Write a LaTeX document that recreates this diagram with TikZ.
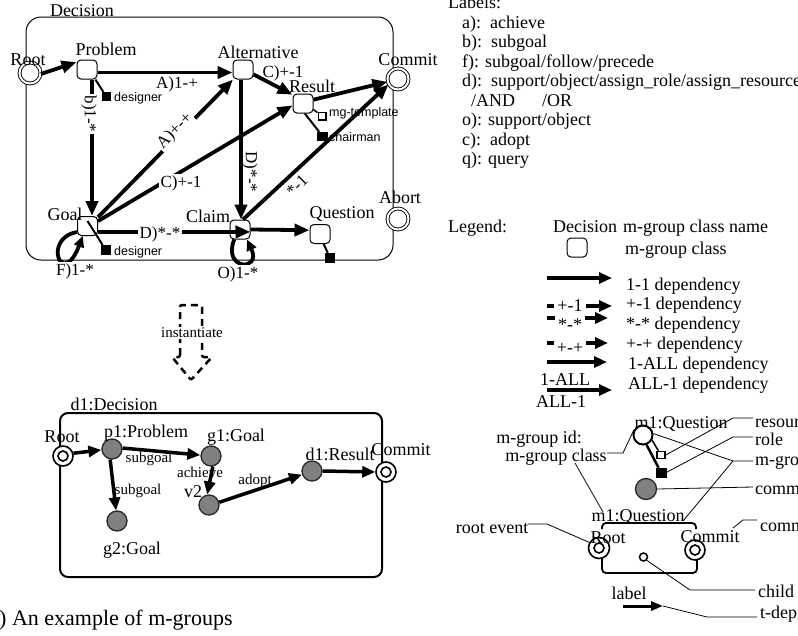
\documentclass[tikz,border=0pt]{standalone}
\usepackage{fontspec}
\setmainfont{Liberation Serif}
\newfontfamily\sansf{Liberation Sans}
\usetikzlibrary{arrows.meta}
\newcommand\fA{\fontsize{18}{20}\selectfont}
\newcommand\fB{\fontsize{17}{19}\selectfont}
\newcommand\fS{\sansf\fontsize{12.5}{14}\selectfont}
\newcommand\fM{\fontsize{15}{17}\selectfont}
\newcommand\fC{\fontsize{22}{24}\selectfont}
\begin{document}
\begin{tikzpicture}[x=1pt,y=-1pt,
  txt/.style={font=\fA, inner sep=0pt, anchor=base},
  txtw/.style={font=\fA, inner sep=0pt, anchor=base west},
  elab/.style={font=\fB, inner sep=1.5pt, fill=white, anchor=base},
  elabn/.style={font=\fB, inner sep=0pt, anchor=base},
  rlab/.style={font=\fB, inner sep=1.5pt, fill=white},
  sml/.style={font=\fS, inner sep=0pt, anchor=west},
  mlab/.style={font=\fM, inner sep=0pt, anchor=base},
  mbox/.style={draw, rounded corners=4pt, minimum width=20pt, minimum height=19pt, inner sep=0pt, fill=white, line width=1pt},
  evt/.style={draw, circle, double, double distance=2pt, line width=0.9pt, minimum size=21pt, inner sep=0pt, fill=white},
  tgt/.style={draw, circle, line width=1.6pt, minimum size=20pt, inner sep=0pt, fill=white},
  inst/.style={draw=black!85, circle, line width=1.3pt, minimum size=20pt, inner sep=0pt, fill=black!50},
  fsq/.style={draw, fill=black, inner sep=0pt, rectangle},
  osq/.style={draw, fill=white, line width=1.5pt, inner sep=0pt, rectangle},
  mk/.style={line width=2pt},
  mkt/.style={line width=1.5pt},
  dep/.style={line width=3.8pt, -{Triangle[length=15pt,width=12pt]}},
  loopa/.style={line width=3.8pt, -{Triangle[length=11pt,width=10pt]}},
  bdep/.style={line width=3.5pt, -{Triangle[length=13pt,width=11pt]}},
  ldep/.style={line width=3.2pt, -{Triangle[length=13pt,width=11pt]}},
  lead/.style={line width=0.8pt}
]
\useasboundingbox (0,0) rectangle (798,635);

% ---------------- top diagram ----------------
\draw[line width=1pt, rounded corners=15pt] (26,17) rectangle (393,260);

\node[mbox] (prob) at (87,69.5) {};
\node[mbox] (alt) at (243,69.5) {};
\node[mbox] (res) at (303,103.5) {};
\node[mbox] (goal) at (87.5,226) {};
\node[mbox] (claim) at (240,229.5) {};
\node[mbox] (ques) at (320,234) {};
\node[evt] (root) at (30,73) {};
\node[evt] (commit) at (398,79) {};
\node[evt] (abort) at (398,219) {};

\node[fsq, minimum width=8pt, minimum height=8pt] (pdes) at (106,96) {};
\node[fsq, minimum size=9pt] (gdes) at (105.5,249.5) {};
\node[fsq, minimum size=9pt] (qdes) at (330,257.5) {};
\node[osq, minimum size=7.5pt] (rtmp) at (322,116) {};
\node[fsq, minimum width=10pt, minimum height=8pt] (rchr) at (322.5,136) {};

\draw[mk] (prob.-50) -- (pdes);
\draw[mk] ([yshift=5pt]goal.center) -- (gdes);
\draw[mk] (ques.-70) -- (qdes);
\draw[mkt] (res.-30) -- (rtmp);
\draw[mk] (res.-80) -- (rchr);

\draw[dep] (root.-5) -- (prob.145);
\draw[dep] ([yshift=-3pt]prob.east) -- ([yshift=-3pt]alt.west);
\draw[dep] ([xshift=5pt]prob.south) -- ([xshift=4.5pt]goal.north);
\draw[dep] (goal.40) -- (alt.-135);
\draw[dep] (goal.25) -- (res.190);
\draw[dep] (goal.-30) -- (claim.-13);
\draw[dep] (alt.-25) -- (res.140);
\draw[dep] ([xshift=-2pt]alt.south) -- ([xshift=1pt]claim.north);
\draw[dep] (res.20) -- (commit.195);
\draw[dep] ([xshift=3pt]claim.north) -- (commit.210);
\draw[dep] (claim.east) -- (ques.160);
\draw[loopa] (goal.-150) .. controls (42,238) and (62,290) .. (goal.-115);
\draw[loopa] (claim.-120) .. controls (222,270) and (262,272) .. (claim.-55);

\node[txt] (tdec) at (82,16) {Decision};
\node[txt] (troot) at (28,65) {Root};
\node[txt] (tprob) at (106,55) {Problem};
\node[txt] (talt) at (258,58) {Alternative};
\node[txt] (tres) at (312,92) {Result};
\node[txt] (tcom) at (408,65) {Commit};
\node[txt] (tgoal) at (65,220) {Goal};
\node[txt] (tclaim) at (208,222) {Claim};
\node[txt] (tques) at (342,218) {Question};
\node[txt] (tabort) at (400,203) {Abort};

\node[elabn] (e1) at (177,88) {A)1-+};
\node[rlab, rotate=-90] (e2) at (89,114) {b)1-*};
\node[rlab, rotate=45] (e3) at (175,131) {A)+-+};
\node[elab] (e4) at (181,187) {C)+-1};
\node[elab] (e5) at (160,238) {D)*-*};
\node[elabn] (e6) at (283,77) {C)+-1};
\node[font=\fB, inner sep=0pt, rotate=-90] (e7) at (250,172) {D)*-*};
\node[font=\fB, inner sep=0pt, rotate=44] (e8) at (297,185.5) {*-1};
\node[elab] (e9) at (75,275) {F)1-*};
\node[elab] (e10) at (238,278) {O)1-*};

\node[sml] (s1) at (114,98) {designer};
\node[sml] (s2) at (114,252) {designer};
\node[sml] (s3) at (329,113.5) {mg-template};
\node[sml] (s4) at (329,137) {chairman};

% ---------------- instantiate ----------------
\draw[line width=2.5pt, dash pattern=on 7pt off 5pt, rounded corners=2pt]
  (180,357) -- (180,305) -- (202,305) -- (202,357) -- (212,357) -- (191,380) -- (172,357) -- cycle;
\node[font=\fM, fill=white, inner sep=1pt] (instl) at (192,333) {instantiate};

% ---------------- bottom diagram ----------------
\draw[line width=2pt, rounded corners=8pt] (60,413) rectangle (382,577);
\node[tgt] (broot) at (63,456) {};
\draw[line width=1.6pt] (broot) circle (5pt);
\node[tgt] (bcom) at (386,472) {};
\draw[line width=1.6pt] (bcom) circle (5pt);
\node[inst] (p1) at (112,449) {};
\node[inst] (g1) at (211,456) {};
\node[inst] (g2) at (117,521) {};
\node[inst] (v2) at (209,505) {};
\node[inst] (d1) at (312,471) {};

\node[txt] (bdec) at (114,410) {d1:Decision};
\node[txt] (broott) at (62,442) {Root};
\node[txt] (p1t) at (146,437) {p1:Problem};
\node[txt] (g1t) at (236,441) {g1:Goal};
\node[txt] (g2t) at (132,554) {g2:Goal};
\node[txt] (v2t) at (193,497) {v2};
\node[txt] (d1t) at (340,460) {d1:Result};
\node[txt] (bcomt) at (401,455) {Commit};
\node[mlab] (bl1) at (149,462) {subgoal};
\node[mlab] (bl2) at (138,494) {subgoal};
\node[mlab] (bl3) at (200,477) {achieve};
\node[mlab] (bl4) at (255,484) {adopt};

\draw[bdep] (broot.15) -- (p1.185);
\draw[bdep] (p1.5) -- (g1.175);
\draw[bdep] (p1.-100) -- (g2.95);
\draw[bdep] (g1.-80) -- (v2.100);
\draw[bdep] (v2.15) -- (d1.-160);
\draw[bdep] (d1.east) -- (bcom.west);

\node[anchor=base west, font=\fC, inner sep=0pt] (cap) at (-1,625) {) An example of m-groups};

% ---------------- labels list ----------------
\node[txtw] (lb0) at (448,8) {Labels:};
\node[txtw] (lb1) at (462,28) {a):\ \ achieve};
\node[txtw] (lb2) at (462,47.5) {b):\ \ subgoal};
\node[txtw] (lb3) at (462,67) {f): subgoal/follow/precede};
\node[txtw] (lb4) at (462,86.5) {d):\ \ support/object/assign\_role/assign\_resource};
\node[txtw] (lb5) at (471,106) {/AND};
\node[txtw] (lb5b) at (542,106) {/OR};
\node[txtw] (lb6) at (462,125.5) {o): support/object};
\node[txtw] (lb7) at (462,145) {c):\ \ adopt};
\node[txtw] (lb8) at (462,164.5) {q): query};

% ---------------- legend ----------------
\node[txtw] (lg0) at (448,232) {Legend:};
\node[txtw] (lg1) at (553,232) {Decision};
\node[txtw] (lg2) at (623,232) {m-group class name};
\node[mbox] (lgbox) at (577,247.5) {};
\node[txtw] (lg3) at (625,254) {m-group class};

\coordinate (a1s) at (547,278); \coordinate (a1e) at (612,278);
\coordinate (a2s) at (547,306); \coordinate (a2e) at (612,306);
\coordinate (a3s) at (547,318); \coordinate (a3e) at (608,318);
\coordinate (a4s) at (547,343); \coordinate (a4e) at (608,343);
\coordinate (a5s) at (547,362); \coordinate (a5e) at (607,362);
\coordinate (a6s) at (547,390); \coordinate (a6e) at (612,390);
\draw[ldep] (a1s) -- (a1e);
\draw[ldep] (a2s) -- (a2e);
\draw[ldep] (a3s) -- (a3e);
\draw[ldep] (a4s) -- (a4e);
\draw[ldep] (a5s) -- (a5e);
\draw[ldep] (a6s) -- (a6e);
\node[font=\fA, inner sep=3pt, fill=white, anchor=base] (d2) at (570,311) {+-1};
\node[font=\fA, inner sep=3pt, fill=white, anchor=base] (d3) at (570,330) {*-*};
\node[font=\fA, inner ysep=4pt, inner xsep=3pt, fill=white, anchor=base] (d4) at (570,353) {+-+};
\node[txt] (d6a) at (565,385) {1-ALL};
\node[txt] (d6b) at (561,407) {ALL-1};
\node[txtw] (t1) at (626,290) {1-1 dependency};
\node[txtw] (t2) at (626,309) {+-1 dependency};
\node[txtw] (t3) at (626,329) {*-* dependency};
\node[txtw] (t4) at (626,349) {+-+ dependency};
\node[txtw] (t5) at (628,369) {1-ALL dependency};
\node[txtw] (t6) at (628,389) {ALL-1 dependency};

% ---------------- legend symbols ----------------
\node[txt] (q1t) at (681,428) {m1:Question};
\node[txt] (mgid) at (539,443) {m-group id:};
\node[txt] (mgcl) at (556,461) {m-group class};
\node[draw, circle, line width=2pt, minimum size=19pt, inner sep=0pt, fill=white] (qc) at (643,435) {};
\node[osq, minimum width=8pt, minimum height=7pt] (qos) at (661,455) {};
\node[fsq, minimum width=10pt, minimum height=9pt] (qfs) at (661,472.5) {};
\draw[mkt] (qc.-30) -- (qos);
\draw[line width=2.5pt] (qc.-70) -- (qfs);
\node[inst, minimum size=21pt] (gc) at (646,489) {};

\draw[line width=1.8pt, rounded corners=4pt] (602,529) -- (602,523) -- (696,523) -- (696,529);
\draw[line width=1.8pt, rounded corners=4pt] (602,556) -- (602,573) -- (697,573) -- (697,558);
\node[tgt, minimum size=21pt] (lroot) at (599,548) {};
\draw[line width=1.6pt] (lroot) circle (5pt);
\node[tgt] (lcom) at (695,550) {};
\draw[line width=1.6pt] (lcom) circle (5pt);
\node[draw, circle, line width=1.5pt, minimum size=8pt, inner sep=0pt, fill=white] (cc) at (643.5,557) {};
\node[txt] (q2t) at (638,521) {m1:Question};
\node[txt] (lroott) at (608,543) {Root};
\node[txt] (lcomt) at (710,542) {Commit};
\node[txt] (revt) at (492,533) {root event};
\node[txt] (lablt) at (629,599) {label};
\coordinate (ta) at (623,606); \coordinate (tb) at (663,606);
\draw[line width=3pt, -{Triangle[length=12pt,width=9pt]}] (ta) -- (tb);

\node[txtw] (r1) at (755,427) {resour};
\node[txtw] (r2) at (755,445) {role};
\node[txtw] (r3) at (755,465) {m-gro};
\node[txtw] (r4) at (755,494) {comm};
\node[txtw] (r5) at (760,531) {comm};
\node[txtw] (r6) at (758,597) {child};
\node[txtw] (r7) at (760,618) {t-dep};

\draw[lead] (mgcl.east |- 0,453) -- (623,453) -- (qc.150);
\draw[lead] (575,463) -- (603,512);
\draw[lead] (qos.east) -- (733,418) -- (753,418);
\draw[lead] (qfs.east) -- (733,437) -- (753,437);
\draw[lead] (qc.8) -- (733,461) -- (753,461);
\draw[lead] (733,461) -- (683,521);
\draw[lead] (gc.east) -- (753,487);
\draw[lead] (733,528) -- (743,520) -- (757,520);
\draw[lead] (cc.-45) -- (690,590) -- (755,590);
\draw[lead] (tb) -- (707,617) -- (757,617);
\draw[lead] (528,524) -- (547,524) -- (lroot.150);
\end{tikzpicture}
\end{document}
